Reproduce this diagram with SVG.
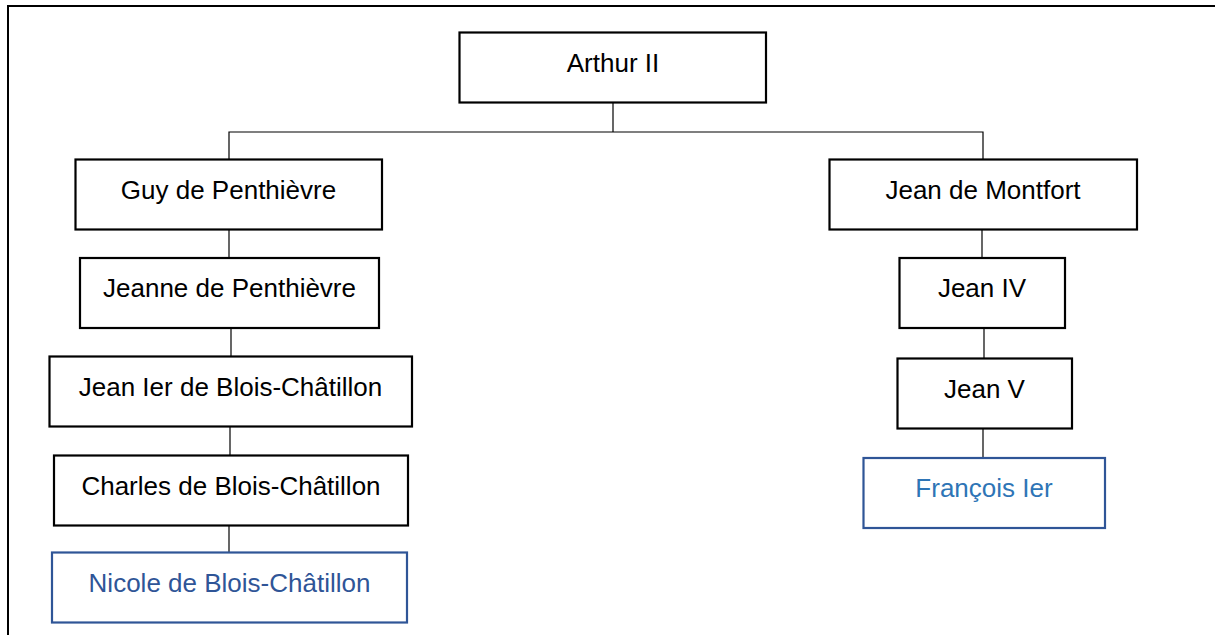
<svg xmlns="http://www.w3.org/2000/svg" width="1215" height="635" viewBox="0 0 1215 635">
  <style>
    .box { fill: #ffffff; stroke: #000000; stroke-width: 2.2; }
    .boxb { fill: #ffffff; stroke: #2F5597; stroke-width: 2.2; }
    .lbl { font-family: "Liberation Sans", Arial, sans-serif; font-size: 26px; text-anchor: middle; fill: #000000; }
    .lblb1 { fill: #2F5597; }
    .lblb2 { fill: #2E75B6; }
    .conn { fill: none; stroke: #000000; stroke-width: 1.2; }
  </style>
  <rect x="0" y="0" width="1215" height="635" fill="#ffffff"/>
  <path d="M8,635 V6 H1215" fill="none" stroke="#000000" stroke-width="2"/>

  <g id="connectors">
    <path class="conn" d="M613,102 V132"/>
    <path class="conn" d="M229,159 V132 H983 V159"/>
    <path class="conn" d="M229,230 V258"/>
    <path class="conn" d="M231,328 V356"/>
    <path class="conn" d="M230,427 V455"/>
    <path class="conn" d="M229,525 V552"/>
    <path class="conn" d="M982,230 V258"/>
    <path class="conn" d="M984,328 V358"/>
    <path class="conn" d="M983,429 V458"/>
  </g>

  <g id="arthur-ii">
    <rect class="box" x="459.5" y="32.5" width="306.5" height="70"/>
    <text class="lbl" x="613" y="71.5">Arthur II</text>
  </g>
  <g id="guy-de-penthievre">
    <rect class="box" x="75.5" y="159.5" width="306.5" height="70"/>
    <text class="lbl" x="228.5" y="198.5">Guy de Penthièvre</text>
  </g>
  <g id="jeanne-de-penthievre">
    <rect class="box" x="80" y="258" width="299" height="70"/>
    <text class="lbl" x="229.5" y="297">Jeanne de Penthièvre</text>
  </g>
  <g id="jean-ier-de-blois-chatillon">
    <rect class="box" x="49.5" y="356.5" width="362.5" height="70"/>
    <text class="lbl" x="230.5" y="395.5">Jean Ier de Blois-Châtillon</text>
  </g>
  <g id="charles-de-blois-chatillon">
    <rect class="box" x="54" y="455.5" width="354" height="70"/>
    <text class="lbl" x="231" y="494.5">Charles de Blois-Châtillon</text>
  </g>
  <g id="nicole-de-blois-chatillon">
    <rect class="boxb" x="52" y="552.5" width="355" height="70"/>
    <text class="lbl lblb1" x="229.5" y="591.5">Nicole de Blois-Châtillon</text>
  </g>
  <g id="jean-de-montfort">
    <rect class="box" x="829.5" y="159.5" width="307.5" height="70"/>
    <text class="lbl" x="983" y="198.5">Jean de Montfort</text>
  </g>
  <g id="jean-iv">
    <rect class="box" x="899.5" y="258" width="165.5" height="70"/>
    <text class="lbl" x="982" y="297">Jean IV</text>
  </g>
  <g id="jean-v">
    <rect class="box" x="897.5" y="358.5" width="174.5" height="70"/>
    <text class="lbl" x="984.5" y="397.5">Jean V</text>
  </g>
  <g id="francois-ier">
    <rect class="boxb" x="863.5" y="458" width="241.5" height="70"/>
    <text class="lbl lblb2" x="984" y="497">François Ier</text>
  </g>
</svg>
